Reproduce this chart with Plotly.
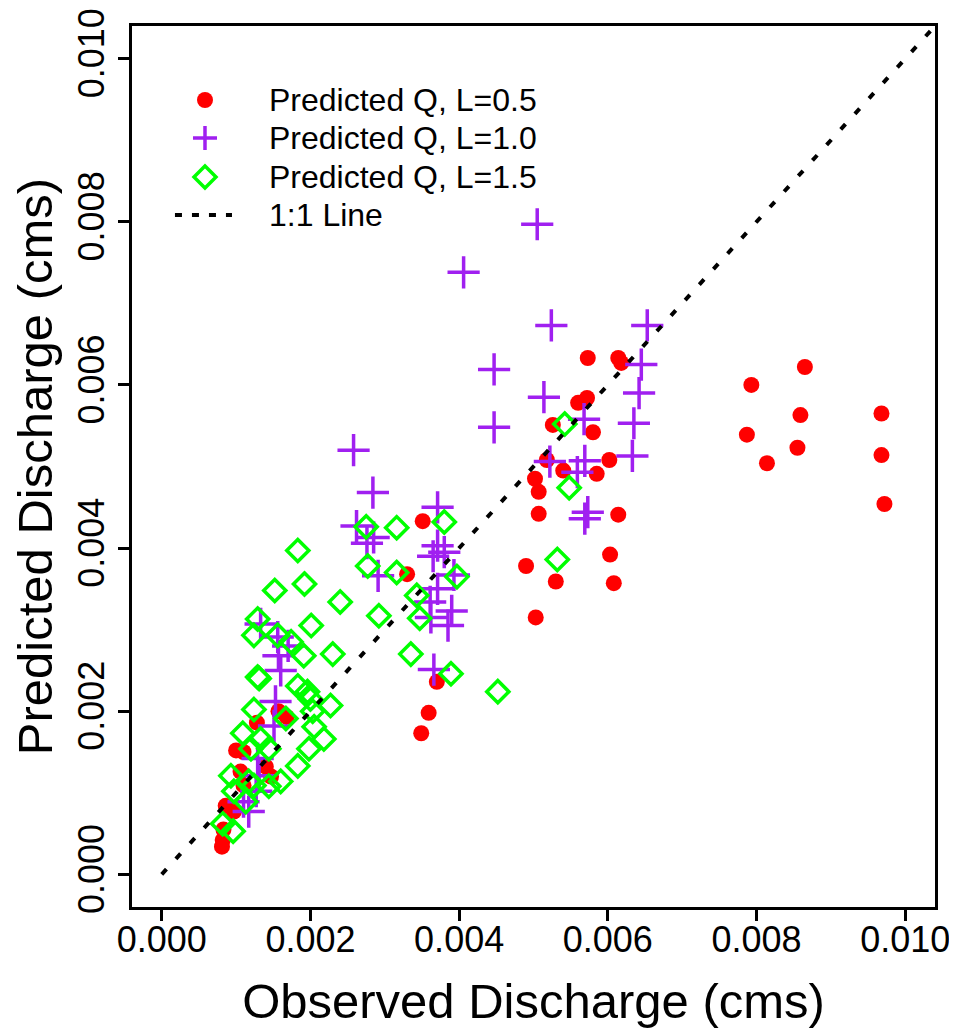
import plotly.graph_objects as go

# ---- data (discharge in cms) ----
obs_L05 = [0.00865, 0.00793, 0.00859, 0.00787, 0.00855, 0.00814, 0.00968, 0.00968, 0.00972,
           0.00573, 0.00614, 0.00618, 0.00560, 0.00572, 0.00526, 0.00580, 0.00518, 0.00540, 0.00602,
           0.00585, 0.00502, 0.00507, 0.00507, 0.00614, 0.00603, 0.00490, 0.00530, 0.00608, 0.00503,
           0.00351, 0.00330, 0.00370, 0.00359, 0.00349,
           0.00157, 0.00168, 0.00128, 0.00100, 0.00110, 0.00140, 0.00147, 0.00106, 0.00110, 0.00086,
           0.00097, 0.00082, 0.00081, 0.00083]
pred_L05 = [0.00622, 0.00600, 0.00563, 0.00539, 0.00523, 0.00504, 0.00565, 0.00514, 0.00454,
            0.00633, 0.00633, 0.00627, 0.00578, 0.00584, 0.00551, 0.00542, 0.00508, 0.00495, 0.00508,
            0.00491, 0.00485, 0.00469, 0.00442, 0.00441, 0.00392, 0.00378, 0.00359, 0.00357, 0.00315,
            0.00433, 0.00368, 0.00236, 0.00198, 0.00173,
            0.00200, 0.00193, 0.00186, 0.00152, 0.00150, 0.00132, 0.00120, 0.00126, 0.00109, 0.00084,
            0.00077, 0.00042, 0.00034, 0.00055]

obs_L10 = [0.00505, 0.00406, 0.00524, 0.00653, 0.00447, 0.00645, 0.00642, 0.00514, 0.00447,
           0.00635, 0.00568, 0.00633, 0.00522, 0.00569, 0.00559, 0.00573, 0.00569,
           0.00258, 0.00284, 0.00262, 0.00371, 0.00285, 0.00276, 0.00371, 0.00365, 0.00380,
           0.00291, 0.00393, 0.00371, 0.00361, 0.00390, 0.00362, 0.00385, 0.00366,
           0.00133, 0.00156, 0.00170, 0.00157, 0.00160, 0.00153, 0.00151, 0.00129, 0.00131,
           0.00127, 0.00117, 0.00110]
pred_L10 = [0.00797, 0.00738, 0.00673, 0.00673, 0.00619, 0.00625, 0.00590, 0.00585, 0.00548,
            0.00553, 0.00558, 0.00513, 0.00506, 0.00507, 0.00493, 0.00444, 0.00436,
            0.00520, 0.00468, 0.00427, 0.00450, 0.00413, 0.00406, 0.00403, 0.00390, 0.00395,
            0.00366, 0.00367, 0.00350, 0.00334, 0.00323, 0.00315, 0.00305, 0.00251,
            0.00307, 0.00291, 0.00280, 0.00268, 0.00250, 0.00212, 0.00182, 0.00142, 0.00121,
            0.00102, 0.00077, 0.00089]

obs_L15 = [0.00542, 0.00548, 0.00532, 0.00452,
           0.00275, 0.00316, 0.00380, 0.00277, 0.00316, 0.00397, 0.00343, 0.00347, 0.00292,
           0.00335, 0.00389,
           0.00183, 0.00192, 0.00152, 0.00240, 0.00201, 0.00129, 0.00124, 0.00156, 0.00174,
           0.00191, 0.00230, 0.00129, 0.00131, 0.00183, 0.00196, 0.00227, 0.00200, 0.00203,
           0.00124, 0.00167, 0.00205, 0.00218, 0.00109, 0.00133, 0.00144, 0.00120, 0.00198,
           0.00183, 0.00160, 0.00144, 0.00117, 0.00093, 0.00097, 0.00124, 0.00113, 0.00082,
           0.00096]
pred_L15 = [0.00552, 0.00474, 0.00386, 0.00224,
            0.00426, 0.00425, 0.00432, 0.00378, 0.00370, 0.00365, 0.00342, 0.00314, 0.00317,
            0.00270, 0.00246,
            0.00397, 0.00356, 0.00348, 0.00334, 0.00305, 0.00313, 0.00293, 0.00293, 0.00285,
            0.00268, 0.00270, 0.00242, 0.00240, 0.00231, 0.00224, 0.00207, 0.00215, 0.00200,
            0.00202, 0.00191, 0.00181, 0.00166, 0.00173, 0.00166, 0.00154, 0.00154, 0.00154,
            0.00133, 0.00114, 0.00108, 0.00114, 0.00121, 0.00102, 0.00109, 0.00089, 0.00062,
            0.00053]

line_11 = [0.0, 0.0104]

x_ticks = [0.000, 0.002, 0.004, 0.006, 0.008, 0.010]
x_tick_text = ["0.000", "0.002", "0.004", "0.006", "0.008", "0.010"]
y_ticks = [0.000, 0.002, 0.004, 0.006, 0.008, 0.010]
y_tick_text = ["0.000", "0.002", "0.004", "0.006", "0.008", "0.010"]

legend_labels = ["Predicted Q, L=0.5", "Predicted Q, L=1.0", "Predicted Q, L=1.5", "1:1 Line"]

FONT = "Liberation Sans, Arial, sans-serif"
RED, PURPLE, GREEN = "#FF0000", "#A020F0", "#00FF00"

fig = go.Figure()
fig.add_trace(go.Scatter(
    x=obs_L05, y=pred_L05, mode="markers", name=legend_labels[0],
    marker=dict(symbol="circle", size=16, color=RED, line=dict(width=0)),
))
fig.add_trace(go.Scatter(
    x=obs_L10, y=pred_L10, mode="markers", name=legend_labels[1],
    marker=dict(symbol="cross-thin", size=23, color=PURPLE,
                line=dict(width=3.5, color=PURPLE)),
))
fig.add_trace(go.Scatter(
    x=obs_L15, y=pred_L15, mode="markers", name=legend_labels[2],
    marker=dict(symbol="diamond-open", size=17, color=GREEN,
                line=dict(width=3.5, color=GREEN)),
))
fig.add_trace(go.Scatter(
    x=line_11, y=line_11, mode="lines", name=legend_labels[3],
    line=dict(color="black", width=4, dash="7px,14px"),
))

axis_common = dict(
    range=[-0.0004, 0.0104], showgrid=False, zeroline=False,
    showline=True, linecolor="black", linewidth=3, mirror=True,
    ticks="outside", ticklen=11, tickwidth=3, tickcolor="black",
    tickfont=dict(family=FONT, size=36, color="black"),
    automargin=False,
)

# ---- manual legend (R-style) ----
sym_x = 0.0909          # paper x of symbol centres
txt_x = 0.1681          # paper x where legend text begins
row_y = [0.916, 0.8729, 0.8286, 0.7855]

shapes = [
    # red filled circle
    dict(type="circle", xref="paper", yref="paper", xsizemode="pixel", ysizemode="pixel",
         xanchor=sym_x, yanchor=row_y[0], x0=-8, x1=8, y0=-8, y1=8,
         fillcolor=RED, line=dict(width=0)),
    # purple plus
    dict(type="path", xref="paper", yref="paper", xsizemode="pixel", ysizemode="pixel",
         xanchor=sym_x, yanchor=row_y[1], path="M-12,0 L12,0 M0,-12 L0,12",
         line=dict(color=PURPLE, width=3.5)),
    # green open diamond
    dict(type="path", xref="paper", yref="paper", xsizemode="pixel", ysizemode="pixel",
         xanchor=sym_x, yanchor=row_y[2], path="M0,-11 L11,0 L0,11 L-11,0 Z",
         line=dict(color=GREEN, width=3.5), fillcolor="rgba(0,0,0,0)"),
    # dashed 1:1 sample
    dict(type="line", xref="paper", yref="paper", x0=0.0535, x1=0.1245,
         y0=row_y[3], y1=row_y[3], line=dict(color="black", width=4, dash="7px,10px")),
]

annotations = [
    dict(text=lbl, xref="paper", yref="paper", x=txt_x, y=yy, xanchor="left",
         yanchor="middle", showarrow=False,
         font=dict(family=FONT, size=32, color="black"))
    for lbl, yy in zip(legend_labels, row_y)
]

fig.update_layout(
    width=957, height=1030,
    margin=dict(l=124, r=30, t=18, b=131),
    paper_bgcolor="white", plot_bgcolor="white",
    font=dict(family=FONT, color="black"),
    xaxis=dict(**axis_common, tickvals=x_ticks, ticktext=x_tick_text,
               ticklabelstandoff=-12,
               title=dict(text="Observed Discharge (cms)",
                          font=dict(family=FONT, size=49), standoff=25)),
    yaxis=dict(**axis_common, tickvals=y_ticks, ticktext=y_tick_text, tickangle=-90,
               title=dict(text="Predicted Discharge (cms)",
                          font=dict(family=FONT, size=49), standoff=6)),
    shapes=shapes,
    annotations=annotations,
    showlegend=False,
)

fig.write_html("out.html")
